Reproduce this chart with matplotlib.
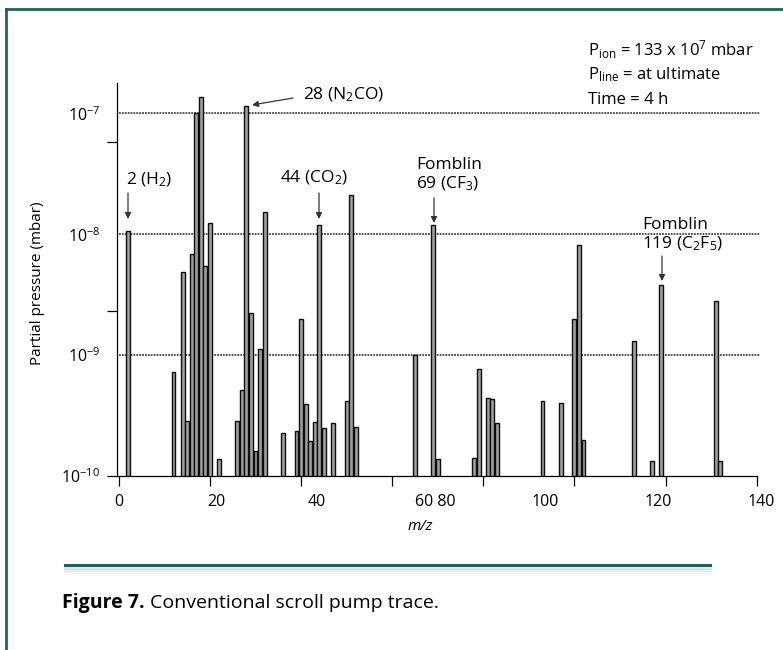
import matplotlib
matplotlib.use("Agg")
import matplotlib.pyplot as plt
from matplotlib.ticker import FixedLocator, NullFormatter
from matplotlib.lines import Line2D

plt.rcParams['font.family'] = ['Open Sans', 'DejaVu Sans']
plt.rcParams['mathtext.fontset'] = 'custom'
plt.rcParams['mathtext.rm'] = 'Open Sans'
plt.rcParams['mathtext.it'] = 'Open Sans:italic'
plt.rcParams['mathtext.bf'] = 'Open Sans:bold'

# peaks: m/z and partial pressure (mbar)
mz = [2, 12, 14, 15, 16, 17, 18, 19, 20, 22,
      26, 27, 28, 29, 30, 31, 32,
      36, 39, 40, 41, 42, 43, 44, 45, 47,
      50, 51, 52, 65, 69, 70,
      78, 79, 81, 82, 83,
      93, 97, 100, 101, 102,
      113, 117, 119, 131, 132]
pressure = [1.06e-8, 7.3e-10, 4.85e-9, 2.85e-10, 6.8e-9, 1.0e-7, 1.35e-7, 5.5e-9, 1.23e-8, 1.38e-10,
            2.85e-10, 5.1e-10, 1.14e-7, 2.23e-9, 1.6e-10, 1.12e-9, 1.52e-8,
            2.26e-10, 2.35e-10, 2.0e-9, 3.95e-10, 1.95e-10, 2.8e-10, 1.2e-8, 2.5e-10, 2.75e-10,
            4.2e-10, 2.1e-8, 2.55e-10, 1.0e-9, 1.18e-8, 1.38e-10,
            1.4e-10, 7.7e-10, 4.4e-10, 4.3e-10, 2.75e-10,
            4.2e-10, 4.0e-10, 2.0e-9, 8.1e-9, 2.0e-10,
            1.3e-9, 1.33e-10, 3.8e-9, 2.8e-9, 1.33e-10]

x_ticks = [0, 20, 40, 60, 80, 100, 120, 140]
# the printed labels sit off their ticks in the original figure
x_label_pos = [0, 21.5, 43.5, 69.4, 93.7, 118.3, 141.1]
x_label_txt = ['0', '20', '40', '60 80', '100', '120', '140']
y_decades = [1e-10, 1e-9, 1e-8, 1e-7]
y_labels = ['10$^{-10}$', '10$^{-9}$', '10$^{-8}$', '10$^{-7}$']
y_minor = [1e-10, 2.3e-9, 5.75e-8]

W, H = 783, 650
PXU = 4.556  # pixels per m/z unit
x0, x1 = -0.4, 141.6
fig = plt.figure(figsize=(W / 100, H / 100), dpi=100)
ax = fig.add_axes([117 / W, (H - 476) / H, (x1 - x0) * PXU / W, 393 / H])


def fp(x, y):
    # figure pixel position measured from the top-left corner
    return (x, H - y)


ax.bar(mz, [p - 1e-10 for p in pressure], bottom=1e-10, width=0.85,
       color='#a0a0a0', edgecolor='#0d0d0d', linewidth=1.0, zorder=3)

for lvl in y_decades[1:]:
    ax.plot([0, 140.7], [lvl, lvl], color='#444444', lw=1.3,
            linestyle=(0, (1, 0.6)), zorder=2)

ax.set_yscale('log')
ax.set_xlim(x0, x1)
ax.set_ylim(1e-10, 10 ** -6.75)
ax.spines['bottom'].set_bounds(x0, 140)

ax.yaxis.set_major_locator(FixedLocator(y_decades))
ax.set_yticklabels(y_labels)
ax.yaxis.set_minor_locator(FixedLocator(y_minor))
ax.yaxis.set_minor_formatter(NullFormatter())
ax.yaxis.remove_overlapping_locs = False
ax.tick_params(axis='y', which='major', length=0, pad=12, labelsize=11.5)
ax.tick_params(axis='y', which='minor', length=7, width=0.9, direction='out')

ax.xaxis.set_major_locator(FixedLocator(x_ticks))
ax.xaxis.set_major_formatter(NullFormatter())
ax.xaxis.set_minor_locator(FixedLocator(x_label_pos))
ax.set_xticklabels(x_label_txt, minor=True)
ax.xaxis.remove_overlapping_locs = False
ax.tick_params(axis='x', which='major', length=7, width=0.9, direction='out')
ax.tick_params(axis='x', which='minor', length=0, pad=13, labelsize=11.5)

for s in ['top', 'right']:
    ax.spines[s].set_visible(False)
for s in ['left', 'bottom']:
    ax.spines[s].set_linewidth(0.9)

fig.text(38 / W, 1 - 283 / H, 'Partial pressure (mbar)', rotation=90,
         ha='center', va='center', fontsize=11)
fig.text(420 / W, 1 - 527 / H, 'm/z', style='italic',
         ha='center', va='center', fontsize=11)

# peak annotations
arrow = dict(arrowstyle='-|>', color='#333333', lw=0.9, mutation_scale=9,
             shrinkA=0, shrinkB=0)
labels = [('2 (H$_2$)', 149, 180, 128, 193, 128, 219),
          ('28 (N$_2$CO)', 344, 95, 293, 98, 252, 105),
          ('44 (CO$_2$)', 314, 178, 319, 193, 319, 219),
          ('Fomblin\n69 (CF$_3$)', 416, 175, 434, 198, 434, 223),
          ('Fomblin\n119 (C$_2$F$_5$)', 642, 235, 662, 256, 662, 281)]
for txt, tx, ty, ax0, ay0, ax1, ay1 in labels:
    ha = 'left' if txt.startswith('Fomblin') else 'center'
    fig.text(tx / W, 1 - ty / H, txt, ha=ha, va='center', fontsize=12.5,
             linespacing=1.15)
    ax.annotate('', xy=fp(ax1, ay1), xycoords='figure pixels',
                xytext=fp(ax0, ay0), textcoords='figure pixels',
                arrowprops=arrow)

info = ['P$_{\\mathrm{ion}}$ = 133 x 10$^7$ mbar',
        'P$_{\\mathrm{line}}$ = at ultimate',
        'Time = 4 h']
for i, line in enumerate(info):
    fig.text(588 / W, 1 - (50 + 25 * i) / H, line, ha='left', va='center',
             fontsize=12)

# page furniture: teal frame, rule and caption
teal = '#1e625e'
fig.add_artist(Line2D([6 / W, 6 / W], [0, 1 - 9 / H], color=teal, lw=2,
                      transform=fig.transFigure))
fig.add_artist(Line2D([6 / W, 1], [1 - 9 / H, 1 - 9 / H], color=teal, lw=2,
                      transform=fig.transFigure))
for k, a in enumerate([0.10, 0.06, 0.035, 0.02]):
    yy = 1 - (568 + 2 * k) / H
    fig.add_artist(Line2D([65 / W, 710 / W], [yy, yy], color='black',
                          alpha=a, lw=2, transform=fig.transFigure))
fig.add_artist(Line2D([65 / W, 710 / W], [1 - 565 / H, 1 - 565 / H],
                      color=teal, lw=2.2, transform=fig.transFigure))

cap = fig.text(62 / W, 1 - 603 / H, 'Figure 7.', fontweight='bold',
               ha='left', va='center', fontsize=14)
fig.canvas.draw()
bb = cap.get_window_extent()
fig.text((bb.x1 + 5) / W, 1 - 603 / H, 'Conventional scroll pump trace.',
         ha='left', va='center', fontsize=14)

fig.savefig('out.png', dpi=100)
